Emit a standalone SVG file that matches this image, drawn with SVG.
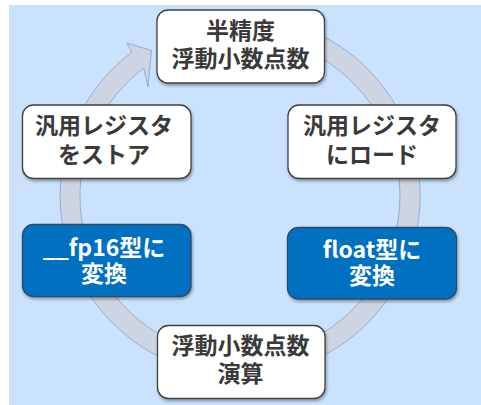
<svg xmlns="http://www.w3.org/2000/svg" width="481" height="405" viewBox="0 0 481 405">
<defs>
<filter id="sh" x="-10%" y="-10%" width="120%" height="130%">
<feDropShadow dx="1" dy="2" stdDeviation="1.5" flood-color="#000" flood-opacity="0.35"/>
</filter>
<style>
.n rect{filter:url(#sh);}
.w rect{fill:#fff;stroke:#404040;stroke-width:1.3;}
.b rect{fill:#0070c0;stroke:#2e4a66;stroke-width:1.3;}
text{font-family:"Noto Sans CJK JP","Noto Sans",sans-serif;font-weight:bold;font-size:23px;text-anchor:middle;}
.w text{fill:#3a3a3a;}
.b text{fill:#fff;}
.ring{fill:#cdd4e2;stroke:#93acd4;stroke-width:1;}
</style>
</defs>
<rect x="9" y="5" width="472" height="400" fill="#cae2fc"/>
<g id="connectors">
<path class="ring" d="M 240 16 A 180 180 0 1 1 131.7 52.3 L 127 43 L 151.5 50.5 L 148 87 L 143.7 68.2 A 160 160 0 1 0 240 36 Z"/>
</g>
<g id="node-top" class="n w">
<rect x="157" y="10" width="167.5" height="73" rx="11"/>
<text x="240.5" y="38.5">半精度</text>
<text x="240.5" y="66.5">浮動小数点数</text>
</g>
<g id="node-store" class="n w">
<rect x="22.5" y="105" width="168.5" height="73.5" rx="11"/>
<text x="104" y="133.5">汎用レジスタ</text>
<text x="104" y="162.5">をストア</text>
</g>
<g id="node-load" class="n w">
<rect x="288" y="105" width="168" height="73.5" rx="11"/>
<text x="372" y="133.5">汎用レジスタ</text>
<text x="372" y="162.5">にロード</text>
</g>
<g id="node-fp16" class="n b">
<rect x="22.5" y="224.5" width="168.5" height="72" rx="11"/>
<text x="104" y="256">__fp16型に</text>
<text x="104" y="282">変換</text>
</g>
<g id="node-float" class="n b">
<rect x="287.5" y="227.5" width="169" height="71.5" rx="11"/>
<text x="372" y="258">float型に</text>
<text x="372" y="284">変換</text>
</g>
<g id="node-calc" class="n w">
<rect x="157.5" y="325.5" width="167.5" height="73" rx="11"/>
<text x="240.5" y="353.5">浮動小数点数</text>
<text x="240.5" y="381.5">演算</text>
</g>
</svg>
